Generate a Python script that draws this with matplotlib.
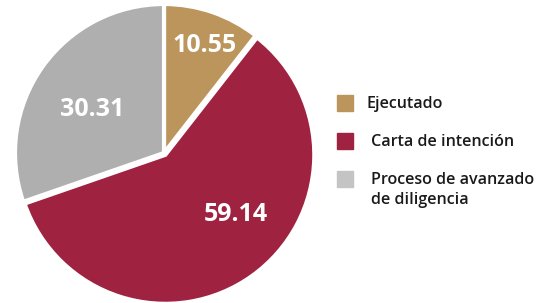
import matplotlib
matplotlib.use("Agg")
import matplotlib.pyplot as plt
from matplotlib.patches import Rectangle

# data
labels = ["Ejecutado", "Carta de intención", "Proceso de avanzado\nde diligencia"]
values = [10.55, 59.14, 30.31]
colors = ["#BC955C", "#9F2241", "#AFAFAF"]
legend_colors = ["#BC955C", "#9F2241", "#C4C4C4"]

W, H = 545, 303
fig = plt.figure(figsize=(W / 100, H / 100), dpi=100)
plt.rcParams["font.family"] = ["Open Sans", "DejaVu Sans"]

# pie axes (center ~ (164,153) px, radius ~149 px)
cx, cy, r = 164, 153, 149
ax = fig.add_axes([(cx - r) / W, (H - cy - r) / H, 2 * r / W, 2 * r / H])
wedges, _, autotexts = ax.pie(
    values,
    colors=colors,
    startangle=90,
    counterclock=False,
    explode=[0, 0.015, 0],
    autopct=lambda p: f"{p:.2f}",
    wedgeprops=dict(edgecolor="white", linewidth=3),
    textprops=dict(color="white", fontsize=18, fontweight="bold"),
)
# label placement (layout only)
label_pos = [(0.27, 0.72), (0.48, -0.41), (-0.48, 0.29)]
for t, (x, y) in zip(autotexts, label_pos):
    t.set_position((x, y))
ax.set_xlim(-1, 1)
ax.set_ylim(-1, 1)
ax.set_aspect("equal")
ax.axis("off")

# legend
sq_x = 337
sq_size = 16
row_y = [103, 141, 179]
text_x = [367, 371, 371]
for lab, c, yy, tx in zip(labels, legend_colors, row_y, text_x):
    fig.patches.append(Rectangle((sq_x / W, (H - yy - sq_size / 2) / H),
                                 sq_size / W, sq_size / H,
                                 transform=fig.transFigure, color=c))
    first, *rest = lab.split("\n")
    fig.text(tx / W, (H - yy - 1) / H, first, fontsize=11.6, color="#1a1a1a",
             fontweight="semibold", va="center", ha="left")
    for i, line in enumerate(rest, start=1):
        fig.text(tx / W, (H - yy - 1 - 20 * i) / H, line, fontsize=11.6,
                 color="#1a1a1a", fontweight="semibold", va="center", ha="left")

fig.savefig("out.png", dpi=100)
